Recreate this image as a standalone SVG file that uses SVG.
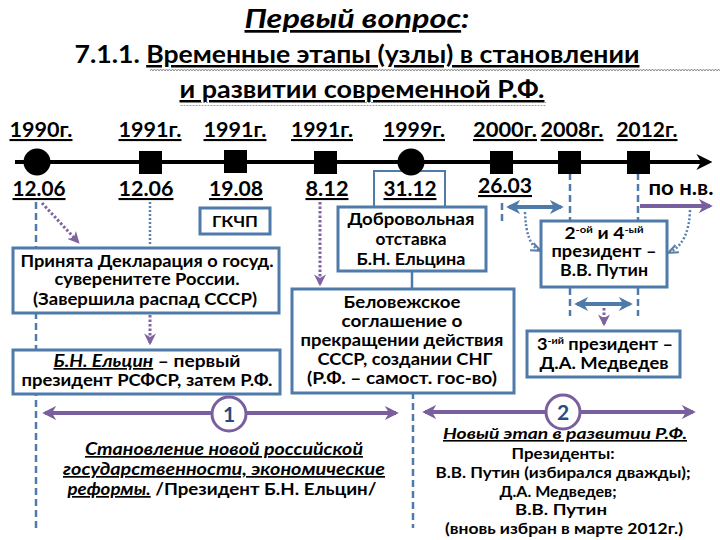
<svg xmlns="http://www.w3.org/2000/svg" width="720" height="540" viewBox="0 0 720 540">
<style>
text{font-family:Lato,"Open Sans","DejaVu Sans",sans-serif;font-weight:bold;fill:#000}
.t{text-anchor:middle}
.u{text-decoration:underline}
.yr{font-size:21px;text-decoration:underline}
.dt{font-size:21px;text-decoration:underline}
.bx{fill:#fff;stroke:#4f7bab;stroke-width:3}
.txt{font-size:17px;text-anchor:middle}
.dash{stroke:#4f7bab;stroke-width:2.5;stroke-dasharray:7 4;fill:none}
.dot{stroke:#5b7fad;stroke-width:2.5;stroke-dasharray:2 2;fill:none}
.pdot{stroke:#8064a2;stroke-width:3;stroke-dasharray:2.5 2;fill:none}
.bar{stroke:#4f7bab;stroke-width:4;fill:none}
.pbar{stroke:#7a5f9e;stroke-width:4;fill:none}
.it{font-style:italic}
</style>
<defs>
<marker id="tl" viewBox="0 0 10 10" refX="6" refY="5" markerWidth="4" markerHeight="4" orient="auto"><path d="M0,0 L10,5 L0,10 L3,5 z" fill="#000"/></marker>
<marker id="ba" viewBox="0 0 10 10" refX="8" refY="5" markerWidth="3.5" markerHeight="3.5" orient="auto-start-reverse"><path d="M0,0 L10,5 L0,10 L3,5 z" fill="#4f7bab"/></marker>
<marker id="pa" viewBox="0 0 10 10" refX="8" refY="5" markerWidth="3.5" markerHeight="3.5" orient="auto-start-reverse"><path d="M0,0 L10,5 L0,10 L3,5 z" fill="#7a5f9e"/></marker>
<marker id="pd" viewBox="0 0 10 10" refX="8" refY="5" markerWidth="4" markerHeight="4" orient="auto"><path d="M0,0 L10,5 L0,10 L3,5 z" fill="#8064a2"/></marker>
<marker id="bd" viewBox="0 0 10 10" refX="8" refY="5" markerWidth="4" markerHeight="4" orient="auto"><path d="M0,1 L10,5 L0,9" fill="none" stroke="#5b7fad" stroke-width="2"/></marker>
<pattern id="wave" width="6" height="4" patternUnits="userSpaceOnUse"><path d="M0,3 L1.5,1 L3,3 L4.5,1 L6,3" fill="none" stroke="#8a8a8a" stroke-width="1"/></pattern>
</defs>
<rect width="720" height="540" fill="#fff"/>

<g id="title">
<text x="357" y="28" class="t it" style="font-size:27px" textLength="225" lengthAdjust="spacingAndGlyphs"><tspan class="u">Первый вопрос</tspan>:</text>
<text x="357" y="63" class="t" style="font-size:25px" textLength="565" lengthAdjust="spacingAndGlyphs">7.1.1. <tspan class="u">Временные этапы (узлы) в становлении</tspan></text>
<text x="362" y="98" class="t u" style="font-size:25px" textLength="365" lengthAdjust="spacingAndGlyphs">и развитии современной Р.Ф.</text>
<rect x="150" y="67" width="570" height="4" fill="url(#wave)"/>
<rect x="180" y="102" width="366" height="4" fill="url(#wave)"/>
</g>

<g id="connectors">
<line x1="15" y1="162" x2="706" y2="162" stroke="#000" stroke-width="4" marker-end="url(#tl)"/>
<line x1="36" y1="202" x2="36" y2="530" class="dash"/>
<line x1="150" y1="202" x2="150" y2="246" class="dot"/>
<line x1="42" y1="203" x2="78" y2="242" class="pdot" marker-end="url(#pd)"/>
<line x1="320" y1="202" x2="320" y2="284" class="pdot" marker-end="url(#pd)"/>
<line x1="150" y1="315" x2="150" y2="343" class="pdot" marker-end="url(#pd)"/>
<polyline points="374,207 374,171 445,171 445,207" fill="none" stroke="#4f7bab" stroke-width="2"/>
<line x1="412" y1="271" x2="412" y2="289" stroke="#4f7bab" stroke-width="2.5"/>
<line x1="502" y1="203" x2="502" y2="222" class="dash"/>
<line x1="570" y1="173" x2="570" y2="221" class="dash"/>
<line x1="638" y1="173" x2="638" y2="221" class="dash"/>
<line x1="570" y1="288" x2="570" y2="316" class="dash"/>
<line x1="638" y1="288" x2="638" y2="316" class="dash"/>
<line x1="509" y1="207" x2="561" y2="207" class="bar" marker-start="url(#ba)" marker-end="url(#ba)"/>
<line x1="577" y1="304" x2="630" y2="304" class="bar" marker-start="url(#ba)" marker-end="url(#ba)"/>
<line x1="640" y1="206" x2="710" y2="206" class="pbar" marker-end="url(#pa)"/>
<path d="M525,212 Q526,244 539,250" class="dot" marker-end="url(#bd)"/>
<path d="M690,210 Q689,243 670,252" class="dot" marker-end="url(#bd)"/>
<line x1="604" y1="308" x2="604" y2="324" class="pdot" marker-end="url(#pd)"/>
<line x1="45" y1="413" x2="396" y2="413" class="pbar" marker-start="url(#pa)" marker-end="url(#pa)"/>
<line x1="413" y1="392" x2="413" y2="528" class="dash"/>
<line x1="425" y1="412" x2="693" y2="412" class="pbar" marker-start="url(#pa)" marker-end="url(#pa)"/>
</g>

<g id="timeline">
<text x="41" y="137" class="yr t" textLength="63" lengthAdjust="spacingAndGlyphs">1990г.</text>
<text x="150" y="137" class="yr t" textLength="63" lengthAdjust="spacingAndGlyphs">1991г.</text>
<text x="235" y="137" class="yr t" textLength="63" lengthAdjust="spacingAndGlyphs">1991г.</text>
<text x="322" y="137" class="yr t" textLength="62" lengthAdjust="spacingAndGlyphs">1991г.</text>
<text x="414" y="137" class="yr t" textLength="62" lengthAdjust="spacingAndGlyphs">1999г.</text>
<text x="505" y="137" class="yr t" textLength="64" lengthAdjust="spacingAndGlyphs">2000г.</text>
<text x="572" y="137" class="yr t" textLength="63" lengthAdjust="spacingAndGlyphs">2008г.</text>
<text x="647" y="137" class="yr t" textLength="61" lengthAdjust="spacingAndGlyphs">2012г.</text>
<circle cx="37" cy="162" r="13.5" fill="#000"/>
<rect x="139" y="151" width="23" height="23" fill="#000"/>
<rect x="224" y="150" width="23" height="23" fill="#000"/>
<rect x="314" y="151" width="23" height="23" fill="#000"/>
<circle cx="411" cy="162" r="13.5" fill="#000"/>
<rect x="490" y="151" width="23" height="23" fill="#000"/>
<rect x="558" y="151" width="23" height="23" fill="#000"/>
<rect x="627" y="151" width="23" height="23" fill="#000"/>
<text x="39" y="196" class="dt t" textLength="53" lengthAdjust="spacingAndGlyphs">12.06</text>
<text x="146" y="196" class="dt t" textLength="55" lengthAdjust="spacingAndGlyphs">12.06</text>
<text x="236" y="196" class="dt t" textLength="54" lengthAdjust="spacingAndGlyphs">19.08</text>
<text x="327" y="196" class="dt t" textLength="43" lengthAdjust="spacingAndGlyphs">8.12</text>
<text x="410" y="196" class="dt t" textLength="53" lengthAdjust="spacingAndGlyphs">31.12</text>
<text x="505" y="193" class="dt t" textLength="54" lengthAdjust="spacingAndGlyphs">26.03</text>
<text x="681" y="195" class="t" style="font-size:21px" textLength="65" lengthAdjust="spacingAndGlyphs">по н.в.</text>
</g>

<g id="gkchp">
<rect x="200" y="208" width="70" height="26" class="bx" stroke-width="2.5"/>
<text x="235" y="227" class="txt" style="font-size:15px" textLength="46" lengthAdjust="spacingAndGlyphs">ГКЧП</text>
</g>

<g id="declaration">
<rect x="13" y="248" width="266" height="65" class="bx"/>
<text x="147" y="267" class="txt" textLength="253" lengthAdjust="spacingAndGlyphs">Принята Декларация о госуд.</text>
<text x="147" y="285" class="txt" textLength="185" lengthAdjust="spacingAndGlyphs">суверенитете России.</text>
<text x="145" y="305" class="txt" textLength="224" lengthAdjust="spacingAndGlyphs">(Завершила распад СССР)</text>
</g>

<g id="yeltsin">
<rect x="13" y="350" width="267" height="44" class="bx"/>
<text x="147" y="367" class="txt" textLength="187" lengthAdjust="spacingAndGlyphs"><tspan class="it u">Б.Н. Ельцин</tspan> – первый</text>
<text x="147" y="386" class="txt" textLength="251" lengthAdjust="spacingAndGlyphs">президент РСФСР, затем Р.Ф.</text>
</g>

<g id="resignation">
<rect x="338" y="207" width="148" height="64" class="bx"/>
<text x="411" y="225" class="txt" textLength="127" lengthAdjust="spacingAndGlyphs">Добровольная</text>
<text x="411" y="245" class="txt" textLength="71" lengthAdjust="spacingAndGlyphs">отставка</text>
<text x="411" y="265" class="txt" textLength="109" lengthAdjust="spacingAndGlyphs">Б.Н. Ельцина</text>
</g>

<g id="belovezh">
<rect x="292" y="289" width="222" height="104" class="bx"/>
<text x="402" y="308" class="txt" textLength="117" lengthAdjust="spacingAndGlyphs">Беловежское</text>
<text x="402" y="327" class="txt" textLength="121" lengthAdjust="spacingAndGlyphs">соглашение о</text>
<text x="402" y="346" class="txt" textLength="203" lengthAdjust="spacingAndGlyphs">прекращении действия</text>
<text x="405" y="365" class="txt" textLength="175" lengthAdjust="spacingAndGlyphs">СССР, создании СНГ</text>
<text x="402" y="384" class="txt" textLength="190" lengthAdjust="spacingAndGlyphs">(Р.Ф. – самост. гос-во)</text>
</g>

<g id="putin">
<rect x="541" y="221" width="126" height="66" class="bx"/>
<text x="604" y="239" class="txt" textLength="79" lengthAdjust="spacingAndGlyphs">2<tspan dy="-6" style="font-size:10px">-ой</tspan><tspan dy="6"> и 4</tspan><tspan dy="-6" style="font-size:10px">-ый</tspan></text>
<text x="604" y="257" class="txt" textLength="105" lengthAdjust="spacingAndGlyphs">президент –</text>
<text x="604" y="276" class="txt" textLength="88" lengthAdjust="spacingAndGlyphs">В.В. Путин</text>
</g>

<g id="medvedev">
<rect x="527" y="331" width="153" height="46" class="bx"/>
<text x="605" y="350" class="txt" textLength="136" lengthAdjust="spacingAndGlyphs">3<tspan dy="-6" style="font-size:10px">-ий</tspan><tspan dy="6"> президент –</tspan></text>
<text x="604" y="369" class="txt" textLength="129" lengthAdjust="spacingAndGlyphs">Д.А. Медведев</text>
</g>

<g id="stage1">
<circle cx="229" cy="414" r="17" fill="#fff" stroke="#7a5f9e" stroke-width="3"/>
<text x="229" y="422" class="t" style="font-size:21px;fill:#2a4a7a">1</text>
<text x="224" y="455" class="t it u" style="font-size:17px" textLength="278" lengthAdjust="spacingAndGlyphs">Становление новой российской</text>
<text x="224" y="475" class="t it u" style="font-size:17px" textLength="322" lengthAdjust="spacingAndGlyphs">государственности, экономические</text>
<text x="222" y="495" class="t" style="font-size:17px" textLength="309" lengthAdjust="spacingAndGlyphs"><tspan class="it u">реформы.</tspan> /Президент Б.Н. Ельцин/</text>
</g>

<g id="stage2">
<circle cx="563" cy="412" r="17" fill="#fff" stroke="#7a5f9e" stroke-width="3"/>
<text x="563" y="420" class="t" style="font-size:21px;fill:#2a4a7a">2</text>
<text x="565" y="439" class="t it u" style="font-size:16px" textLength="244" lengthAdjust="spacingAndGlyphs">Новый этап в развитии Р.Ф.</text>
<text x="563" y="459" class="t" style="font-size:16px" textLength="103" lengthAdjust="spacingAndGlyphs">Президенты:</text>
<text x="563" y="478" class="t" style="font-size:16px" textLength="255" lengthAdjust="spacingAndGlyphs">В.В. Путин (избирался дважды);</text>
<text x="558" y="497" class="t" style="font-size:16px" textLength="117" lengthAdjust="spacingAndGlyphs">Д.А. Медведев;</text>
<text x="561" y="515" class="t" style="font-size:16px" textLength="92" lengthAdjust="spacingAndGlyphs">В.В. Путин</text>
<text x="564" y="534" class="t" style="font-size:16px" textLength="238" lengthAdjust="spacingAndGlyphs">(вновь избран в марте 2012г.)</text>
</g>
</svg>
